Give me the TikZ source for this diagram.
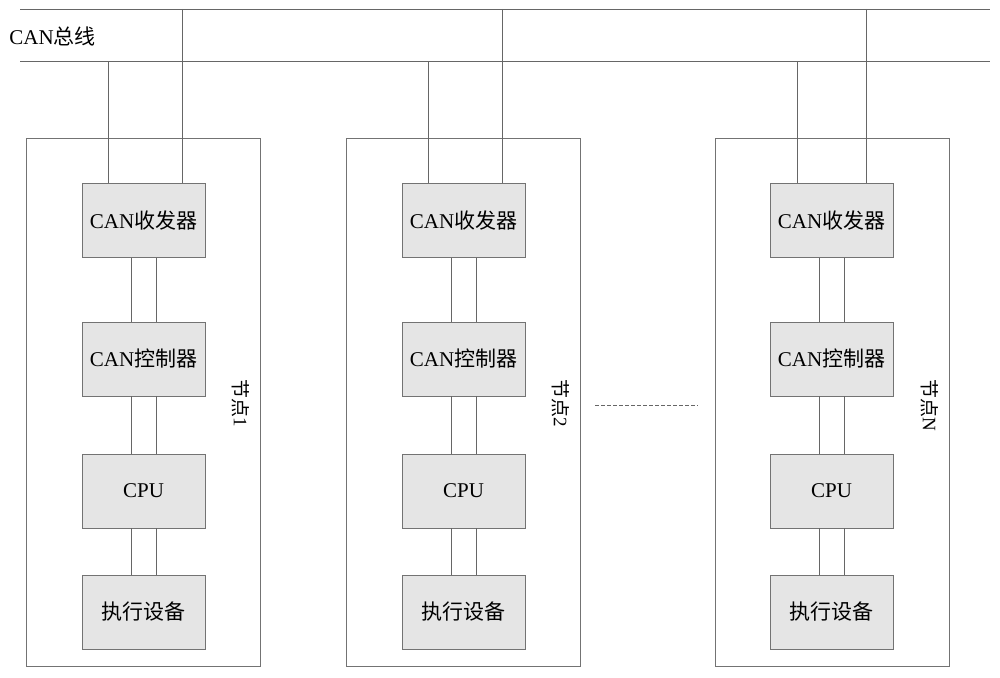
\documentclass[tikz,border=0pt]{standalone}
\usepackage{fontspec}
\setmainfont{Liberation Serif}
\newfontfamily\cjk{Noto Sans CJK SC}
\newcommand\zh[1]{{\cjk #1}}

\begin{document}
\begin{tikzpicture}[x=1pt, y=-1pt, line width=0.9pt,
    font=\fontsize{21}{24}\selectfont,
    wire/.style={draw=black!60},
    unit/.style={draw=black!55, fill=black!10, inner sep=0pt,
                 minimum width=123pt, minimum height=74pt},
    nodebox/.style={draw=black!55, inner sep=0pt,
                    minimum width=234pt, minimum height=528pt},
    tag/.style={rotate=-90, font=\fontsize{19}{22}\selectfont}]
    \useasboundingbox (0,0) rectangle (1000,677);
    % bus
    \coordinate (busTL) at ( 20,  9);
    \coordinate (busTR) at (990,  9);
    \coordinate (busBL) at ( 20, 61);
    \coordinate (busBR) at (990, 61);
    \draw [wire] (busTL) -- (busTR);
    \draw [wire] (busBL) -- (busBR);
    \path ( 9, 36) node [anchor=west, inner sep=0pt] (buslabel) {CAN\zh{总线}};

    % node 1
    \path (143, 402) node [nodebox] (node1) {};
    \path (143.5, 220.5) node [unit] (trx1) {CAN\zh{收发器}};
    \path (143.5, 359) node [unit] (ctl1) {CAN\zh{控制器}};
    \path (143.5, 491) node [unit] (cpu1) {CPU};
    \path (143.5, 612) node [unit] (act1) {\zh{执行设备}};
    \path (241, 403) node [tag] (tag1) {\zh{节点}1};

    % node 2
    \path (463, 402) node [nodebox] (node2) {};
    \path (463.5, 220.5) node [unit] (trx2) {CAN\zh{收发器}};
    \path (463.5, 359) node [unit] (ctl2) {CAN\zh{控制器}};
    \path (463.5, 491) node [unit] (cpu2) {CPU};
    \path (463.5, 612) node [unit] (act2) {\zh{执行设备}};
    \path (561, 403) node [tag] (tag2) {\zh{节点}2};

    % node N
    \path (832, 402) node [nodebox] (nodeN) {};
    \path (831.5, 220.5) node [unit] (trxN) {CAN\zh{收发器}};
    \path (831.5, 359) node [unit] (ctlN) {CAN\zh{控制器}};
    \path (831.5, 491) node [unit] (cpuN) {CPU};
    \path (831.5, 612) node [unit] (actN) {\zh{执行设备}};
    \path (930, 405) node [tag] (tagN) {\zh{节点}N};

    % drops to the bus
    \coordinate (tap1a) at (108, 61);
    \coordinate (tap1b) at (182,  9);
    \coordinate (tap2a) at (428, 61);
    \coordinate (tap2b) at (502,  9);
    \coordinate (tapNa) at (797, 61);
    \coordinate (tapNb) at (866,  9);
    \draw [wire] (tap1a) -- (tap1a |- trx1.north);
    \draw [wire] (tap1b) -- (tap1b |- trx1.north);
    \draw [wire] (tap2a) -- (tap2a |- trx2.north);
    \draw [wire] (tap2b) -- (tap2b |- trx2.north);
    \draw [wire] (tapNa) -- (tapNa |- trxN.north);
    \draw [wire] (tapNb) -- (tapNb |- trxN.north);

    % links inside node 1
    \draw [wire] ([xshift=-12.5pt]trx1.south) -- ([xshift=-12.5pt]ctl1.north);
    \draw [wire] ([xshift= 12.5pt]trx1.south) -- ([xshift= 12.5pt]ctl1.north);
    \draw [wire] ([xshift=-12.5pt]ctl1.south) -- ([xshift=-12.5pt]cpu1.north);
    \draw [wire] ([xshift= 12.5pt]ctl1.south) -- ([xshift= 12.5pt]cpu1.north);
    \draw [wire] ([xshift=-12.5pt]cpu1.south) -- ([xshift=-12.5pt]act1.north);
    \draw [wire] ([xshift= 12.5pt]cpu1.south) -- ([xshift= 12.5pt]act1.north);
    % links inside node 2
    \draw [wire] ([xshift=-12.5pt]trx2.south) -- ([xshift=-12.5pt]ctl2.north);
    \draw [wire] ([xshift= 12.5pt]trx2.south) -- ([xshift= 12.5pt]ctl2.north);
    \draw [wire] ([xshift=-12.5pt]ctl2.south) -- ([xshift=-12.5pt]cpu2.north);
    \draw [wire] ([xshift= 12.5pt]ctl2.south) -- ([xshift= 12.5pt]cpu2.north);
    \draw [wire] ([xshift=-12.5pt]cpu2.south) -- ([xshift=-12.5pt]act2.north);
    \draw [wire] ([xshift= 12.5pt]cpu2.south) -- ([xshift= 12.5pt]act2.north);
    % links inside node N
    \draw [wire] ([xshift=-12.5pt]trxN.south) -- ([xshift=-12.5pt]ctlN.north);
    \draw [wire] ([xshift= 12.5pt]trxN.south) -- ([xshift= 12.5pt]ctlN.north);
    \draw [wire] ([xshift=-12.5pt]ctlN.south) -- ([xshift=-12.5pt]cpuN.north);
    \draw [wire] ([xshift= 12.5pt]ctlN.south) -- ([xshift= 12.5pt]cpuN.north);
    \draw [wire] ([xshift=-12.5pt]cpuN.south) -- ([xshift=-12.5pt]actN.north);
    \draw [wire] ([xshift= 12.5pt]cpuN.south) -- ([xshift= 12.5pt]actN.north);

    % the nodes in between
    \coordinate (gapL) at (595, 405);
    \coordinate (gapR) at (698, 405);
    \draw [wire, dashed, dash pattern=on 4pt off 2pt, line width=0.7pt] (gapL) -- (gapR);
\end{tikzpicture}
\end{document}
